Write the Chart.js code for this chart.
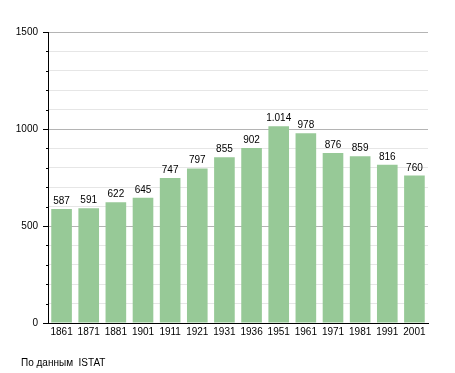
<!DOCTYPE html>
<html><head><meta charset="utf-8">
<script src="https://cdn.jsdelivr.net/npm/chart.js@4/dist/chart.umd.min.js"></script>
<style>
html,body{margin:0;padding:0;background:#fff;}
#wrap{position:relative;width:455px;height:373px;}
#src{position:absolute;left:21px;top:357px;font:10px "Liberation Sans",Arial,sans-serif;color:#000;}
</style></head>
<body>
<div id="wrap"><canvas id="c" width="455" height="373"></canvas><div id="src">По данным&nbsp; ISTAT</div></div>
<script>
const years = ['1861','1871','1881','1901','1911','1921','1931','1936','1951','1961','1971','1981','1991','2001'];
const population = [587,591,622,645,747,797,855,902,1014,978,876,859,816,760];
const yMajorTicks = [0,500,1000,1500];

function fmt(v){const s=String(v);return s.length>3? s.slice(0,s.length-3)+'.'+s.slice(-3):s;}

const valueLabels = {
  id:'valueLabels',
  afterDatasetsDraw(chart){
    const ctx=chart.ctx; const meta=chart.getDatasetMeta(0);
    ctx.save(); ctx.font='10px "Liberation Sans", Arial, sans-serif'; ctx.fillStyle='#000';
    ctx.textAlign='center'; ctx.textBaseline='alphabetic';
    meta.data.forEach((bar,i)=>{ ctx.fillText(fmt(population[i]), bar.x, bar.y-5); });
    ctx.restore();
  }
};
const yTickMarks = {
  id:'yTickMarks',
  afterDraw(chart){
    const s=chart.scales.y, ctx=chart.ctx, left=chart.chartArea.left;
    ctx.save(); ctx.strokeStyle='#000'; ctx.lineWidth=1;
    s.ticks.forEach(t=>{
      const y=Math.round(s.getPixelForValue(t.value))+0.5;
      const len = yMajorTicks.includes(t.value)?5:2;
      ctx.beginPath(); ctx.moveTo(left-len,y); ctx.lineTo(left,y); ctx.stroke();
    });
    ctx.restore();
  }
};

new Chart(document.getElementById('c'),{
  type:'bar',
  data:{labels:years,datasets:[{data:population,backgroundColor:'#97c997',borderWidth:0,barPercentage:0.76,categoryPercentage:1}]},
  options:{
    responsive:false,animation:false,
    layout:{padding:{left:0,top:32,right:27,bottom:0}},
    plugins:{legend:{display:false},tooltip:{enabled:false}},
    scales:{
      x:{
        grid:{color:'rgba(0,0,0,0)',drawTicks:false},
        border:{display:true,color:'#000',width:1},
        ticks:{color:'#000',font:{family:'"Liberation Sans", Arial, sans-serif',size:10},padding:3,maxRotation:0,autoSkip:false},
        afterFit(s){s.height=50;}
      },
      y:{
        min:0,max:1500,
        grid:{drawTicks:false,color:(c)=> (c.tick && c.tick.value%500===0)?'#b4b4b4':'#e6e6e6'},
        border:{display:true,color:'#000',width:1},
        ticks:{stepSize:100,color:'#000',padding:10,font:{family:'"Liberation Sans", Arial, sans-serif',size:10},
          callback:(v)=> yMajorTicks.includes(v)? String(v):''},
        afterFit(s){s.width=48;}
      }
    }
  },
  plugins:[valueLabels,yTickMarks]
});
</script>
</body></html>
